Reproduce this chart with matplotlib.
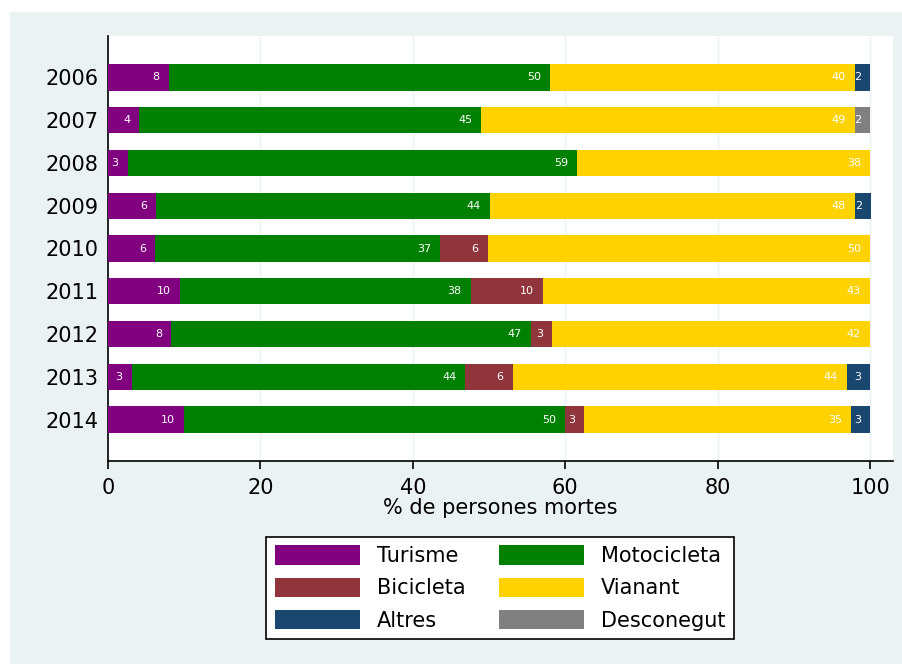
import numpy as np
import matplotlib
matplotlib.use('Agg')
import matplotlib.pyplot as plt
from matplotlib.patches import Rectangle

years = ['2006', '2007', '2008', '2009', '2010', '2011', '2012', '2013', '2014']
turisme = [8.0, 4.1, 2.6, 6.3, 6.2, 9.5, 8.3, 3.1, 10.0]
motocicleta = [50.0, 44.9, 59.0, 43.8, 37.4, 38.1, 47.2, 43.8, 50.0]
bicicleta = [0, 0, 0, 0, 6.2, 9.5, 2.8, 6.2, 2.5]
vianant = [40.0, 49.0, 38.4, 47.9, 50.2, 42.9, 41.7, 43.8, 35.0]
altres = [2.0, 0, 0, 2.1, 0, 0, 0, 3.1, 2.5]
desconegut = [0, 2.0, 0, 0, 0, 0, 0, 0, 0]

series = [('Turisme', turisme, '#800080'),
          ('Motocicleta', motocicleta, '#008000'),
          ('Bicicleta', bicicleta, '#90353b'),
          ('Vianant', vianant, '#ffd200'),
          ('Altres', altres, '#1a476f'),
          ('Desconegut', desconegut, '#808080')]

bg = '#eaf2f3'
fig = plt.figure(figsize=(9.03, 6.64), dpi=100)
fig.patch.set_facecolor('white')
# graph region (leaves a thin white strip top/left like the original)
fig.patches.append(Rectangle((10/903, 0), 1, (664-12)/664, transform=fig.transFigure,
                             facecolor=bg, edgecolor='none', zorder=-10))

ax = fig.add_axes([108/903, 1-461/664, (893-108)/903, (461-36)/664])
ax.set_facecolor('white')

y = np.arange(len(years))
left = np.zeros(len(years))
bars = {}
for name, vals, col in series:
    vals = np.array(vals, dtype=float)
    bars[name] = ax.barh(y, vals, left=left, height=0.61, color=col, edgecolor='none', zorder=3)
    for i, v in enumerate(vals):
        if v > 0:
            ax.text(left[i] + v - 1.2, y[i], str(int(v + 0.5)), ha='right', va='center',
                    color='white', fontsize=8, zorder=4)
    left = left + vals

ax.set_xlim(0, 103)
ax.set_ylim(len(years) - 0.03, -0.97)
ax.set_yticks(y)
ax.set_yticklabels(years)
ax.set_xticks([0, 20, 40, 60, 80, 100])
ax.tick_params(axis='y', length=0, pad=7, labelsize=15)
ax.tick_params(axis='x', length=6, width=1.2, pad=6, labelsize=15)
ax.grid(axis='x', color=bg, linewidth=1, zorder=0)
for s in ['top', 'right']:
    ax.spines[s].set_visible(False)
for s in ['left', 'bottom']:
    ax.spines[s].set_linewidth(1.2)
ax.set_xlabel('% de persones mortes', fontsize=15, labelpad=0)

order = ['Turisme', 'Bicicleta', 'Altres', 'Motocicleta', 'Vianant', 'Desconegut']
leg = ax.legend([bars[k] for k in order], order, ncol=2, loc='upper center',
                bbox_to_anchor=(500/903, 1-537/664), bbox_transform=fig.transFigure,
                borderaxespad=0, fontsize=15, handlelength=4.1, handleheight=1.05,
                handletextpad=0.8, columnspacing=1.6, labelspacing=0.55, borderpad=0.4,
                frameon=True, fancybox=False, edgecolor='black', framealpha=1)
leg.get_frame().set_linewidth(1.2)

fig.savefig('out.png', dpi=100, facecolor='white')
